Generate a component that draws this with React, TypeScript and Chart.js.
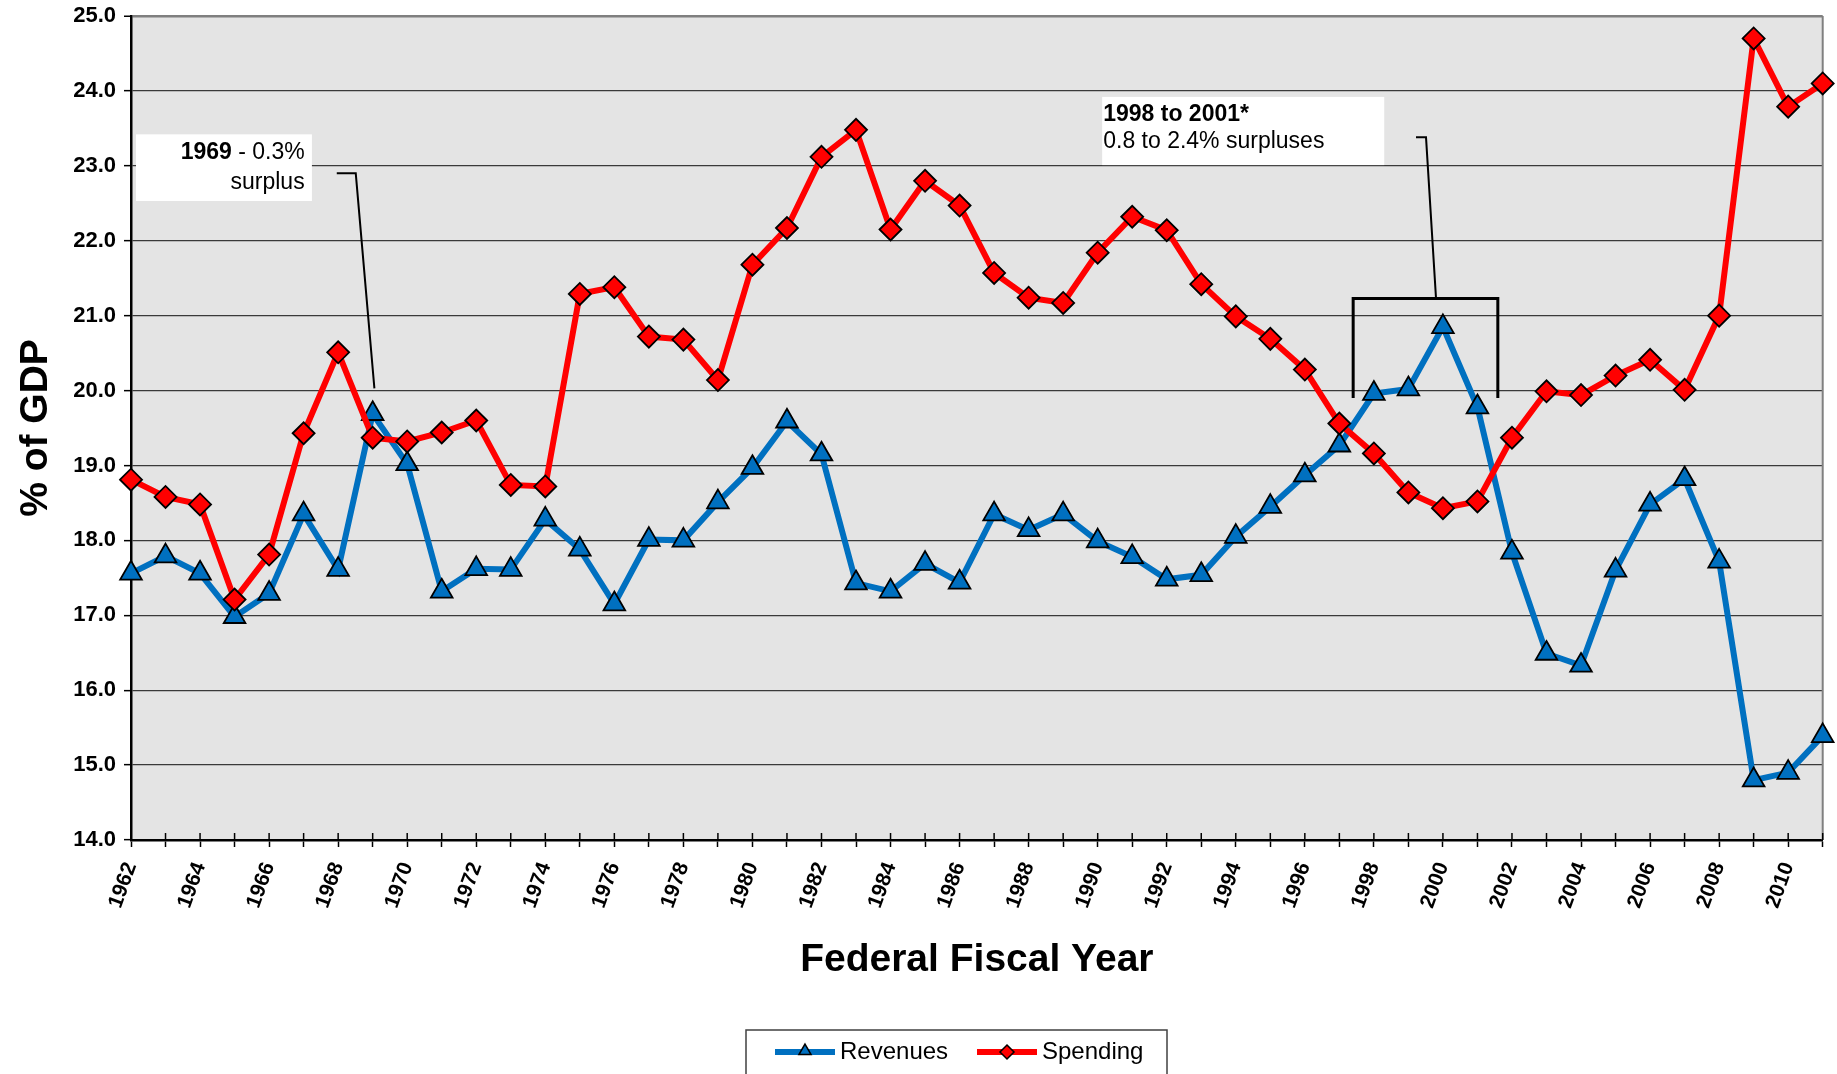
import React, { useEffect, useRef } from 'react';
import { Chart, registerables } from 'chart.js';

Chart.register(...registerables);

const years = [
  '1962', '1963', '1964', '1965', '1966', '1967', '1968', '1969', '1970', '1971',
  '1972', '1973', '1974', '1975', '1976', '1977', '1978', '1979', '1980', '1981',
  '1982', '1983', '1984', '1985', '1986', '1987', '1988', '1989', '1990', '1991',
  '1992', '1993', '1994', '1995', '1996', '1997', '1998', '1999', '2000', '2001',
  '2002', '2003', '2004', '2005', '2006', '2007', '2008', '2009', '2010', '2011',
];

const labeledYears = [
  '1962', '1964', '1966', '1968', '1970', '1972', '1974', '1976', '1978', '1980',
  '1982', '1984', '1986', '1988', '1990', '1992', '1994', '1996', '1998', '2000',
  '2002', '2004', '2006', '2008', '2010',
];

const revenues = [
  17.56, 17.79, 17.56, 16.98, 17.29, 18.35, 17.61, 19.69, 19.02, 17.32,
  17.62, 17.61, 18.28, 17.88, 17.15, 18.01, 18.0, 18.51, 18.97, 19.59,
  19.15, 17.43, 17.32, 17.69, 17.44, 18.35, 18.14, 18.35, 17.99, 17.78,
  17.48, 17.54, 18.05, 18.45, 18.87, 19.27, 19.96, 20.02, 20.85, 19.78,
  17.84, 16.49, 16.33, 17.6, 18.48, 18.82, 17.72, 14.8, 14.9, 15.39,
];

const spending = [
  18.81, 18.58, 18.48, 17.21, 17.81, 19.43, 20.51, 19.37, 19.32, 19.44,
  19.6, 18.74, 18.72, 21.29, 21.38, 20.72, 20.68, 20.14, 21.68, 22.17,
  23.12, 23.48, 22.15, 22.8, 22.47, 21.57, 21.24, 21.17, 21.84, 22.32,
  22.14, 21.42, 20.99, 20.69, 20.28, 19.56, 19.16, 18.64, 18.43, 18.52,
  19.37, 19.99, 19.94, 20.2, 20.41, 20.01, 21.0, 24.7, 23.79, 24.1,
];

const seriesNames = ['Revenues', 'Spending'];
const yMin = 14;
const yMax = 25;
const yStep = 1;

const FONT = 'Arial, "Liberation Sans", Helvetica, sans-serif';
const BLUE = '#0070C0';
const RED = '#FF0000';

function triPath(ctx: CanvasRenderingContext2D, x: number, y: number, r: number) {
  ctx.beginPath();
  ctx.moveTo(x, y - r);
  ctx.lineTo(x + r * 0.866, y + r * 0.5);
  ctx.lineTo(x - r * 0.866, y + r * 0.5);
  ctx.closePath();
}
function diamondPath(ctx: CanvasRenderingContext2D, x: number, y: number, r: number) {
  ctx.beginPath();
  ctx.moveTo(x, y - r);
  ctx.lineTo(x + r, y);
  ctx.lineTo(x, y + r);
  ctx.lineTo(x - r, y);
  ctx.closePath();
}

function zeroPadding(scale: any) {
  scale.paddingLeft = 0;
  scale.paddingRight = 0;
  scale.paddingTop = 0;
  scale.paddingBottom = 0;
}

const bgPlugin = {
  id: 'plotBg',
  beforeDraw(chart: any) {
    const { ctx, chartArea: a } = chart;
    ctx.save();
    ctx.fillStyle = '#ffffff';
    ctx.fillRect(0, 0, chart.width, chart.height);
    ctx.fillStyle = '#E4E4E4';
    ctx.fillRect(a.left, a.top, a.right - a.left, a.bottom - a.top);
    ctx.restore();
  },
  beforeDatasetsDraw(chart: any) {
    const { ctx, chartArea: a } = chart;
    const xs = chart.scales.x;
    ctx.save();
    ctx.strokeStyle = '#808080';
    ctx.lineWidth = 2;
    ctx.beginPath();
    ctx.moveTo(a.right, a.top);
    ctx.lineTo(a.right, a.bottom);
    ctx.stroke();
    ctx.strokeStyle = '#000';
    ctx.lineWidth = 1.5;
    for (let i = 0; i < years.length; i++) {
      const px = xs.getPixelForTick(i);
      ctx.beginPath();
      ctx.moveTo(px, a.bottom - 7);
      ctx.lineTo(px, a.bottom);
      ctx.stroke();
    }
    ctx.restore();
  },
};

const annotationPlugin = {
  id: 'notes',
  afterDatasetsDraw(chart: any) {
    const { ctx } = chart;
    const xs = chart.scales.x;
    const ys = chart.scales.y;
    const px = (v: number) => xs.getPixelForValue(v);
    const py = (v: number) => ys.getPixelForValue(v);
    ctx.save();

    ctx.fillStyle = '#ffffff';
    ctx.fillRect(px(0.145), py(23.42), px(5.24) - px(0.145), py(22.53) - py(23.42));
    ctx.fillStyle = '#000';
    ctx.textBaseline = 'middle';
    ctx.textAlign = 'right';
    const rx = px(5.03);
    ctx.font = `23px ${FONT}`;
    const rest = ' - 0.3%';
    ctx.fillText(rest, rx, py(23.17));
    const w = ctx.measureText(rest).width;
    ctx.font = `bold 23px ${FONT}`;
    ctx.fillText('1969', rx - w, py(23.17));
    ctx.font = `23px ${FONT}`;
    ctx.fillText('surplus', rx, py(22.77));

    ctx.strokeStyle = '#000';
    ctx.lineWidth = 2;
    ctx.beginPath();
    ctx.moveTo(px(5.96), py(22.9));
    ctx.lineTo(px(6.51), py(22.9));
    ctx.lineTo(px(7.05), py(20.03));
    ctx.stroke();

    ctx.fillStyle = '#ffffff';
    ctx.fillRect(px(28.13), py(23.92), px(36.3) - px(28.13), py(23.01) - py(23.92));
    ctx.fillStyle = '#000';
    ctx.textAlign = 'left';
    ctx.font = `bold 23px ${FONT}`;
    ctx.fillText('1998 to 2001*', px(28.16), py(23.68));
    ctx.font = `23px ${FONT}`;
    ctx.fillText('0.8 to 2.4% surpluses', px(28.16), py(23.32));

    ctx.lineWidth = 2;
    ctx.beginPath();
    ctx.moveTo(px(37.22), py(23.38));
    ctx.lineTo(px(37.51), py(23.38));
    ctx.lineTo(px(37.8), py(21.23));
    ctx.stroke();

    ctx.lineWidth = 3;
    ctx.beginPath();
    ctx.moveTo(px(35.4), py(19.9));
    ctx.lineTo(px(35.4), py(21.23));
    ctx.lineTo(px(39.59), py(21.23));
    ctx.lineTo(px(39.59), py(19.9));
    ctx.stroke();
    ctx.restore();
  },
};

const legendPlugin = {
  id: 'boxLegend',
  afterDraw(chart: any) {
    const { ctx } = chart;
    ctx.save();
    const left = 746;
    const top = 1030;
    const width = 421;
    ctx.strokeStyle = '#404040';
    ctx.lineWidth = 1.5;
    ctx.strokeRect(left, top, width, 80);
    const cy = 1052;
    const items = [
      { name: seriesNames[0], color: BLUE, x0: 775, kind: 'tri' },
      { name: seriesNames[1], color: RED, x0: 977, kind: 'dia' },
    ];
    ctx.font = `24px ${FONT}`;
    ctx.textBaseline = 'middle';
    ctx.textAlign = 'left';
    for (const it of items) {
      ctx.strokeStyle = it.color;
      ctx.lineWidth = 6;
      ctx.lineCap = 'butt';
      ctx.beginPath();
      ctx.moveTo(it.x0, cy);
      ctx.lineTo(it.x0 + 60, cy);
      ctx.stroke();
      const mx = it.x0 + 30;
      if (it.kind === 'tri') triPath(ctx, mx, cy - 1, 7);
      else diamondPath(ctx, mx, cy, 7);
      ctx.fillStyle = it.color;
      ctx.fill();
      ctx.strokeStyle = '#000';
      ctx.lineWidth = 1.5;
      ctx.stroke();
      ctx.fillStyle = '#000';
      ctx.fillText(it.name, it.x0 + 65, cy);
    }
    ctx.restore();
  },
};

export default function App() {
  const canvasRef = useRef<HTMLCanvasElement | null>(null);

  useEffect(() => {
    if (!canvasRef.current) return;
    const chart = new Chart(canvasRef.current, {
      type: 'line',
      data: {
        labels: years,
        datasets: [
          {
            label: seriesNames[0],
            data: revenues,
            borderColor: BLUE,
            backgroundColor: BLUE,
            borderWidth: 6,
            pointStyle: 'triangle',
            pointRadius: 12.5,
            pointBackgroundColor: BLUE,
            pointBorderColor: '#000',
            pointBorderWidth: 1.8,
            tension: 0,
            order: 1,
          },
          {
            label: seriesNames[1],
            data: spending,
            borderColor: RED,
            backgroundColor: RED,
            borderWidth: 6,
            pointStyle: 'rectRot',
            pointRadius: 11,
            pointBackgroundColor: RED,
            pointBorderColor: '#000',
            pointBorderWidth: 1.8,
            tension: 0,
            order: 0,
          },
        ],
      },
      options: {
        animation: false,
        responsive: true,
        maintainAspectRatio: false,
        layout: { padding: { left: 0, top: 16, right: 13, bottom: 0 } },
        plugins: {
          legend: { display: false },
          tooltip: { enabled: false },
        },
        scales: {
          x: {
            type: 'category',
            offset: false,
            afterFit(scale: any) {
              scale.height = 234;
              zeroPadding(scale);
            },
            grid: {
              drawOnChartArea: false,
              drawTicks: true,
              tickLength: 7,
              tickColor: '#000',
              tickWidth: 1.5,
            },
            border: { display: true, color: '#000', width: 2.5 },
            ticks: {
              autoSkip: false,
              minRotation: 70,
              maxRotation: 70,
              padding: 12,
              color: '#000',
              font: { family: FONT, size: 21, weight: 'bold' },
              callback(value: any) {
                const lab = years[value as number];
                return labeledYears.includes(lab) ? lab : '';
              },
            },
            title: {
              display: true,
              text: 'Federal Fiscal Year',
              color: '#000',
              font: { family: FONT, size: 39, weight: 'bold' },
              padding: { top: 0, bottom: 90 },
            },
          },
          y: {
            min: yMin,
            max: yMax,
            afterFit(scale: any) {
              scale.width = 131;
              zeroPadding(scale);
            },
            grid: {
              color: (c: any) => (c.tick && c.tick.value === yMax ? '#7f7f7f' : '#3a3a3a'),
              lineWidth: (c: any) => (c.tick && c.tick.value === yMax ? 2.5 : 1.3),
              drawTicks: true,
              tickLength: 7,
              tickColor: '#000',
              tickWidth: 1.5,
            },
            border: { display: true, color: '#000', width: 2.5 },
            ticks: {
              stepSize: yStep,
              padding: 8,
              color: '#000',
              font: { family: FONT, size: 22, weight: 'bold' },
              callback(value: any) {
                return Number(value).toFixed(1);
              },
            },
            title: {
              display: true,
              text: '% of GDP',
              color: '#000',
              font: { family: FONT, size: 39, weight: 'bold' },
              padding: { top: 13, bottom: 0 },
            },
          },
        },
      },
      plugins: [bgPlugin, annotationPlugin, legendPlugin],
    } as any);
    return () => chart.destroy();
  }, []);

  return (
    <div style={{ position: 'absolute', left: 0, top: 0, width: '1837px', height: '1074px', background: '#fff' }}>
      <canvas ref={canvasRef} />
    </div>
  );
}
